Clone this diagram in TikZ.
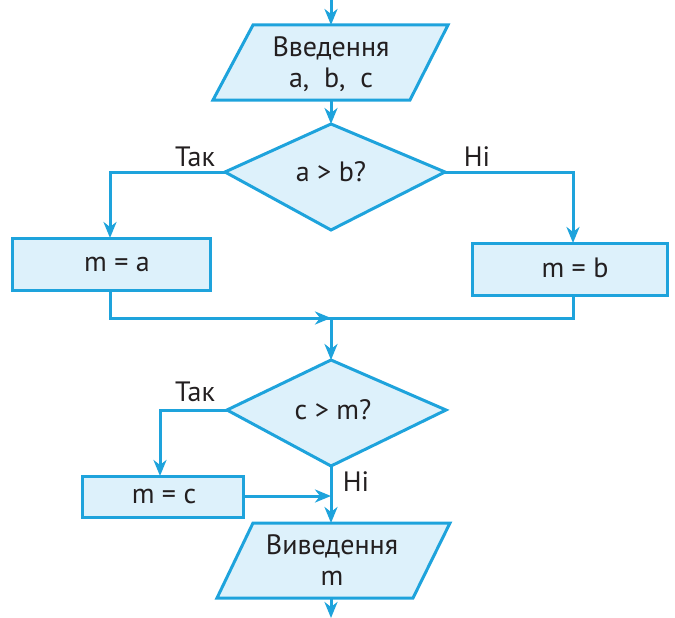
\documentclass[tikz,border=0pt]{standalone}
\usepackage{fontspec}
\setmainfont{PT Sans}
\usetikzlibrary{arrows.meta}
\definecolor{ln}{HTML}{1EA3DC}
\definecolor{fl}{HTML}{DDF1FB}
\definecolor{tx}{HTML}{231F20}
\begin{document}
\begin{tikzpicture}[x=1pt,y=-1pt,
  shp/.style={draw=ln, fill=fl, line width=3pt, line join=miter},
  con/.style={draw=ln, line width=3pt},
  arr/.style={con, -{Stealth[length=16pt,width=13pt,inset=5pt]}},
  lbl/.style={text=tx, font=\fontsize{28}{31}\selectfont, inner sep=0pt, align=center}]
\useasboundingbox (0,0) rectangle (675,618);
% shapes
\draw[shp] (253,25) -- (448,25) -- (410,100) -- (213,100) -- cycle;
\draw[shp] (331,124) -- (445,172) -- (331,230) -- (225,172) -- cycle;
\draw[shp] (12,238) rectangle (210,290);
\draw[shp] (472,243) rectangle (667,295);
\draw[shp] (331,360) -- (446,410) -- (331,466) -- (227,410) -- cycle;
\draw[shp] (82,476) rectangle (243,517);
\draw[shp] (253,523) -- (450,523) -- (413,598) -- (217,598) -- cycle;
% named coordinates
\coordinate (top) at (331,0);
\coordinate (inT) at (331,25);
\coordinate (inB) at (331,100);
\coordinate (d1T) at (331,124);
\coordinate (d1L) at (225,172);
\coordinate (d1R) at (445,172);
\coordinate (maT) at (110,238);
\coordinate (maB) at (110,290);
\coordinate (mbT) at (573,243);
\coordinate (mbB) at (573,295);
\coordinate (j1) at (331,318);
\coordinate (d2T) at (331,360);
\coordinate (d2L) at (227,410);
\coordinate (d2B) at (331,466);
\coordinate (mcT) at (160,476);
\coordinate (mcR) at (245,496);
\coordinate (j2) at (331,496);
\coordinate (outT) at (331,523);
\coordinate (outB) at (331,598);
\coordinate (bot) at (331,618);
% texts
\node[lbl] (in) at (331,64) {Введення\\a, \ b, \ c};
\node[lbl] (d1) at (331,172) {a > b?};
\node[lbl] (t1) at (195,157) {Так};
\node[lbl] (n1) at (477,157) {Ні};
\node[lbl] (ma) at (117,264) {m = a};
\node[lbl] (mb) at (575,268) {m = b};
\node[lbl] (d2) at (333,410) {c > m?};
\node[lbl] (t2) at (195,392) {Так};
\node[lbl] (n2) at (356,482) {Ні};
\node[lbl] (mc) at (164,496) {m = c};
\node[lbl] (out) at (332,560) {Виведення\\m};
% connectors
\draw[arr] (top) -- (inT);
\draw[arr] (inB) -- (d1T);
\draw[arr] (d1L) -| (maT);
\draw[arr] (d1R) -| (mbT);
\draw[con] (maB) |- (j1);
\draw[arr] (maB |- j1) -- (j1);
\draw[con] (mbB) |- (j1);
\draw[arr] (j1) -- (d2T);
\draw[arr] (d2L) -| (mcT);
\draw[arr] (mcR) -- (j2);
\draw[arr] (d2B) -- (outT);
\draw[arr] (outB) -- (bot);
\end{tikzpicture}
\end{document}
